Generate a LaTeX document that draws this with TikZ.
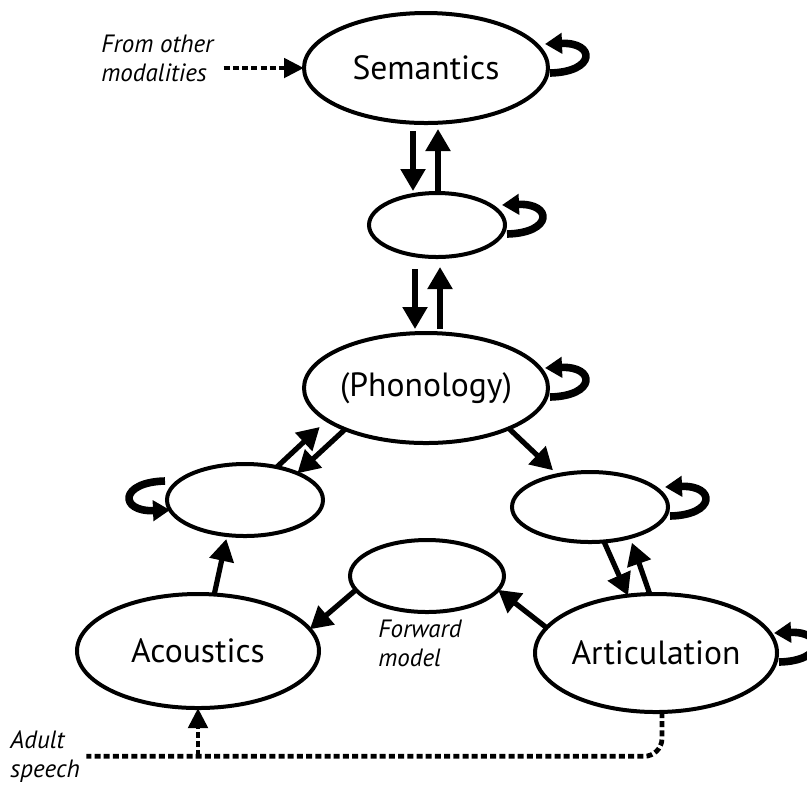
\documentclass[tikz,border=0pt]{standalone}
\usepackage{fontspec}
\setmainfont{PT Sans}
\usetikzlibrary{shapes.geometric,arrows.meta}
\tikzset{
  state/.style={ellipse, draw, line width=2pt, inner sep=0pt, outer sep=0pt,
    font=\fontsize{16.8}{20}\selectfont},
  note/.style={anchor=north west, align=left, inner sep=0pt,
    font=\fontsize{12.5}{14.5}\selectfont\itshape},
  arr/.style={line width=2.6pt, -{Triangle[length=11pt,width=12pt]}},
  selfloop/.style={line width=3.8pt, -{Triangle[length=8.5pt,width=10pt]}},
  dotline/.style={line width=2.4pt, dash pattern=on 3pt off 1.6pt},
  dotarrow/.style={dotline, -{Triangle[length=10pt,width=9.5pt]}}
}
\begin{document}
\begin{tikzpicture}[x=0.5pt,y=-0.5pt]
    \useasboundingbox (0,0) rectangle (807,784);
    % layers
    \node[state, minimum width=122pt, minimum height=55pt] (sem) at (426,68) {Semantics};
    \node[state, minimum width=68pt, minimum height=32pt] (hid) at (437,225) {};
    \node[state, minimum width=122pt, minimum height=55pt] (pho) at (426,388) {(Phonology)};
    \node[state, minimum width=78pt, minimum height=36pt] (lh) at (245,500) {};
    \node[state, minimum width=78pt, minimum height=35pt] (rh) at (590,507) {};
    \node[state, minimum width=77pt, minimum height=36pt] (fwd) at (427,576) {};
    \node[state, minimum width=121pt, minimum height=57pt] (aco) at (198,651) {Acoustics};
    \node[state, minimum width=121pt, minimum height=59pt] (art) at (656,653) {Articulation};
    % labels
    \node[note] (mod) at (101,35) {From other\\modalities};
    \node[note] (fwdtext) at (378,620) {Forward\\model};
    \node[note] (adult) at (10,730) {Adult\\speech};
    % semantics - hidden - phonology
    \draw[arr, shorten <=4pt, shorten >=1pt] ([xshift=-6.5pt]sem.south) -- ([xshift=-6.5pt]sem.south |- hid.north);
    \draw[arr, shorten >=3pt] ([xshift=6pt]sem.south |- hid.north) -- ([xshift=6pt]sem.south);
    \draw[arr, shorten <=6pt, shorten >=2pt] ([xshift=-5.5pt]pho.north |- hid.south) -- ([xshift=-5.5pt]pho.north);
    \draw[arr, shorten <=2pt, shorten >=5pt] ([xshift=7pt]pho.north) -- ([xshift=7pt]pho.north |- hid.south);
    % lower triangle
    \draw[arr, shorten >=5pt] (lh.46) -- (pho.198);
    \draw[arr] (pho.207) -- (lh.27);
    \draw[arr, shorten >=3.5pt] (pho.334) -- (rh.135);
    \draw[arr] (rh.292) -- (art.116);
    \draw[arr, shorten >=3pt] (art.96) -- (rh.323);
    \draw[arr] (art.167) -- (fwd.349);
    \draw[arr] (fwd.191) -- (aco.11);
    \draw[arr, shorten >=2pt] (aco.74) -- (lh.243);
    % recurrent loops
    \foreach \n/\a/\r/\dy in {sem/east/0/2pt, hid/east/0/0pt, pho/east/0/0pt, lh/west/180/5pt, rh/east/0/0pt, art/east/0/0pt}
    \draw[selfloop, shift={(\n.\a)}, yshift=\dy, rotate=\r] (2,9) .. controls (48,8) and (48,-22) .. (-3,-20);
    % external input
    \draw[dotarrow] ([xshift=5pt]mod.east |- sem.west) -- (sem.west);
    \draw[dotline, rounded corners=9pt] ([xshift=3pt]art.south) |- ([xshift=3pt]adult.east);
    \draw[dotarrow] (aco.south |- adult.east) -- (aco.south);
\end{tikzpicture}
\end{document}
